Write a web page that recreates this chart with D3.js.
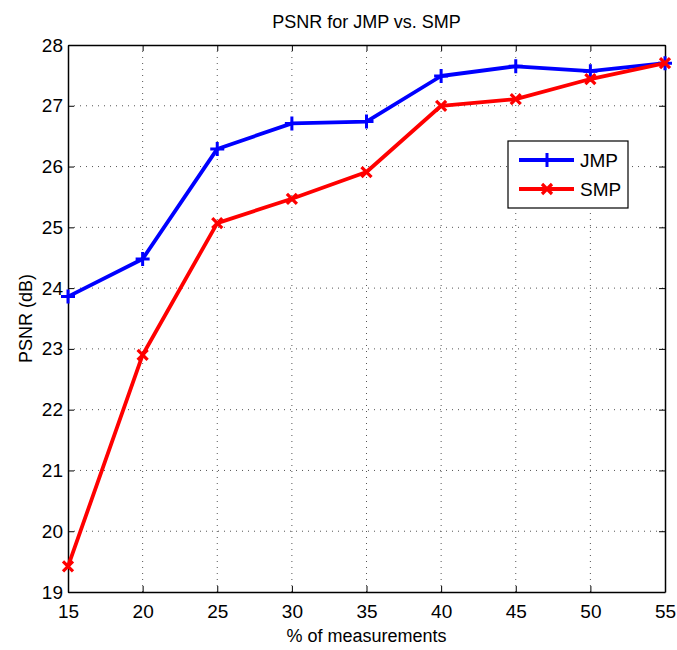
<!DOCTYPE html>
<html>
<head>
<meta charset="utf-8">
<script src="https://cdn.jsdelivr.net/npm/d3@7"></script>
<style>
  body { margin: 0; background: #fff; }
  svg { display: block; font-family: "Liberation Sans", Arial, sans-serif; }
</style>
</head>
<body>
<svg id="chart" width="677" height="650"></svg>
<script>
// Percentage of measurements used
const measurements = [15, 20, 25, 30, 35, 40, 45, 50, 55];
// PSNR (dB) for each method
const jmpValues = [23.86, 24.48, 26.29, 26.71, 26.74, 27.49, 27.65, 27.57, 27.70];
const smpValues = [19.42, 22.90, 25.07, 25.47, 25.91, 27.00, 27.11, 27.44, 27.70];
const xTicks = [15, 20, 25, 30, 35, 40, 45, 50, 55];
const yTicks = [19, 20, 21, 22, 23, 24, 25, 26, 27, 28];
const seriesNames = ["JMP", "SMP"];

const svg = d3.select("#chart");
const margin = { left: 68, right: 12, top: 45, bottom: 58 };
const W = 677, H = 650;
const x = d3.scaleLinear().domain([15, 55]).range([margin.left, W - margin.right]);
const y = d3.scaleLinear().domain([19, 28]).range([H - margin.bottom, margin.top]);

const x0 = x.range()[0], x1 = x.range()[1];
const y0 = y.range()[0], y1 = y.range()[1];

// dotted grid
const grid = svg.append("g").attr("stroke", "#555").attr("stroke-width", 1)
  .attr("stroke-dasharray", "1,5");
xTicks.slice(1, -1).forEach(t => {
  grid.append("line").attr("x1", x(t)).attr("x2", x(t)).attr("y1", y0).attr("y2", y1);
});
yTicks.slice(1, -1).forEach(t => {
  grid.append("line").attr("x1", x0).attr("x2", x1).attr("y1", y(t)).attr("y2", y(t));
});

// axes with inward ticks on all four sides
const tickLen = 6;
const axBottom = svg.append("g").attr("transform", `translate(0,${y0})`)
  .call(d3.axisBottom(x).tickValues(xTicks).tickSizeInner(-tickLen).tickSizeOuter(0).tickPadding(13));
const axTop = svg.append("g").attr("transform", `translate(0,${y1})`)
  .call(d3.axisTop(x).tickValues(xTicks).tickSizeInner(-tickLen).tickSizeOuter(0).tickFormat(""));
const axLeft = svg.append("g").attr("transform", `translate(${x0},0)`)
  .call(d3.axisLeft(y).tickValues(yTicks).tickSizeInner(-tickLen).tickSizeOuter(0).tickPadding(5));
const axRight = svg.append("g").attr("transform", `translate(${x1},0)`)
  .call(d3.axisRight(y).tickValues(yTicks).tickSizeInner(-tickLen).tickSizeOuter(0).tickFormat(""));
[axBottom, axTop, axLeft, axRight].forEach(a => {
  a.select(".domain").attr("stroke", "#000").attr("stroke-width", 1.5);
  a.selectAll(".tick line").attr("stroke", "#000");
  a.selectAll("text").attr("font-size", 19).attr("fill", "#000")
    .attr("font-family", "'Liberation Sans', Arial, sans-serif");
});
axBottom.selectAll("text").attr("dy", "0.71em");

// series
const line = d3.line().x((d, i) => x(measurements[i])).y(d => y(d));
function plusPath(s) { return `M${-s},0H${s}M0,${-s}V${s}`; }
function crossPath(s) { return `M${-s},${-s}L${s},${s}M${-s},${s}L${s},${-s}`; }

const series = [
  { name: seriesNames[0], values: jmpValues, color: "#0000ff", marker: plusPath(7), mw: 3 },
  { name: seriesNames[1], values: smpValues, color: "#ff0000", marker: crossPath(5), mw: 3.2 }
];

series.forEach(s => {
  svg.append("path").datum(s.values).attr("d", line)
    .attr("fill", "none").attr("stroke", s.color).attr("stroke-width", 3.8)
    .attr("stroke-linejoin", "round");
  svg.append("g").selectAll("path").data(s.values).join("path")
    .attr("transform", (d, i) => `translate(${x(measurements[i])},${y(d)})`)
    .attr("d", s.marker).attr("stroke", s.color).attr("stroke-width", s.mw).attr("fill", "none");
});

// legend
const lg = svg.append("g").attr("transform", "translate(508,141)");
lg.append("rect").attr("width", 120).attr("height", 67).attr("fill", "#fff")
  .attr("stroke", "#000").attr("stroke-width", 1.2);
series.forEach((s, i) => {
  const cy = 19 + i * 29;
  lg.append("line").attr("x1", 11).attr("x2", 66).attr("y1", cy).attr("y2", cy)
    .attr("stroke", s.color).attr("stroke-width", 3.8);
  lg.append("path").attr("transform", `translate(39,${cy})`).attr("d", s.marker)
    .attr("stroke", s.color).attr("stroke-width", s.mw).attr("fill", "none");
  lg.append("text").attr("x", 72).attr("y", cy).attr("dy", "0.36em")
    .attr("font-size", 19).text(s.name);
});

// title and axis labels
svg.append("text").attr("x", (x0 + x1) / 2).attr("y", 28).attr("text-anchor", "middle")
  .attr("font-size", 18).text("PSNR for JMP vs. SMP");
svg.append("text").attr("x", (x0 + x1) / 2).attr("y", 642).attr("text-anchor", "middle")
  .attr("font-size", 18).text("% of measurements");
svg.append("text").attr("transform", `translate(32,${(y0 + y1) / 2}) rotate(-90)`)
  .attr("text-anchor", "middle").attr("font-size", 18).text("PSNR (dB)");
</script>
</body>
</html>
